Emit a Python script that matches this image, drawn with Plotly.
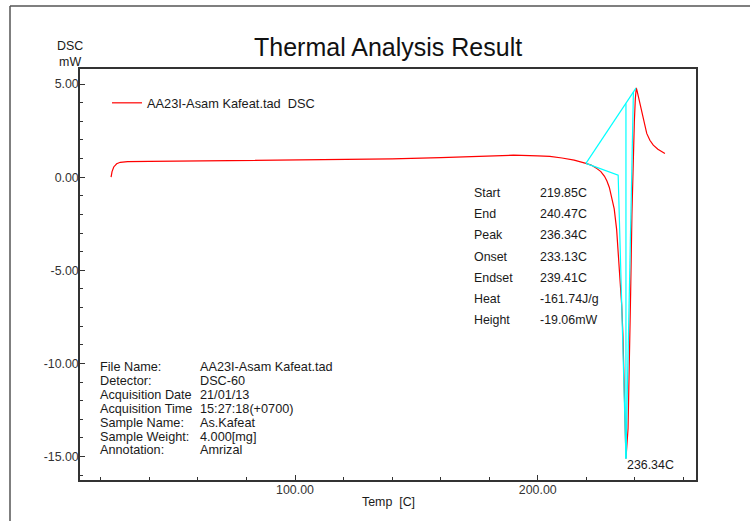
import plotly.graph_objects as go

# DSC trace: temperature [C] and heat flow [mW]
temp = [24.2, 24.6, 25.3, 26.5, 28.0, 31.0, 40.0, 60.0, 80.0, 100.0, 120.0, 140.0,
        160.0, 175.0, 190.0, 200.0, 205.0, 210.0, 215.0, 219.85, 222.0, 224.0,
        226.0, 227.5, 228.5, 229.5, 230.5, 231.5, 232.5, 233.3, 234.0, 234.6,
        235.1, 235.5, 235.9, 236.34, 237.2, 237.8, 238.3, 238.8, 239.3, 239.8,
        240.2, 240.6, 241.0, 241.5, 242.2, 242.9, 243.9, 244.9, 246.2, 247.6,
        249.5, 251.0, 252.4]
dsc = [0.0, 0.30, 0.55, 0.72, 0.80, 0.84, 0.85, 0.87, 0.90, 0.92, 0.95, 0.98,
       1.05, 1.12, 1.18, 1.15, 1.12, 1.03, 0.92, 0.74, 0.65, 0.50,
       0.30, 0.05, -0.20, -0.55, -1.10, -1.70, -2.80, -4.20, -5.60, -6.90,
       -8.50, -10.50, -12.80, -15.10, -13.50, -10.00, -6.00, -2.00, 1.00, 3.00,
       4.20, 4.80, 4.60, 4.30, 3.90, 3.44, 2.85, 2.35, 1.98, 1.72,
       1.50, 1.38, 1.27]

# Peak analysis results
start_t, start_v = 219.85, 0.74
end_t, end_v = 240.47, 4.78
peak_t, peak_v = 236.34, -15.10
onset_t, onset_v = 233.13, 0.11
endset_t = 239.41
height = 19.06

result_labels = ["Start", "End", "Peak", "Onset", "Endset", "Heat", "Height"]
result_values = ["219.85C", "240.47C", "236.34C", "233.13C", "239.41C", "-161.74J/g", "-19.06mW"]

info_labels = ["File Name:", "Detector:", "Acquisition Date", "Acquisition Time",
               "Sample Name:", "Sample Weight:", "Annotation:"]
info_values = ["AA23I-Asam Kafeat.tad", "DSC-60", "21/01/13", "15:27:18(+0700)",
               "As.Kafeat", "4.000[mg]", "Amrizal"]


def baseline(t):
    return start_v + (t - start_t) * (end_v - start_v) / (end_t - start_t)


FONT = "Arial, Liberation Sans, sans-serif"
TXT = "#1a1a1a"
CYAN = "#00ffff"

fig = go.Figure()

fig.add_trace(go.Scatter(x=temp, y=dsc, mode="lines", name="AA23I-Asam Kafeat.tad  DSC",
                         line=dict(color="#ff0000", width=1.2)))

# Baseline and tangent construction lines
cyan_segments = [
    ([start_t, end_t], [start_v, end_v]),
    ([start_t, onset_t, peak_t], [start_v, onset_v, peak_v]),
    ([peak_t, peak_t], [peak_v, peak_v + height]),
    ([peak_t, endset_t], [peak_v, baseline(endset_t)]),
]
for xs, ys in cyan_segments:
    fig.add_trace(go.Scatter(x=xs, y=ys, mode="lines", showlegend=False,
                             line=dict(color=CYAN, width=1.2)))

annotations = []
# Peak results table
for i, (lab, val) in enumerate(zip(result_labels, result_values)):
    yy = 193 + i * 21.2
    annotations.append(dict(x=472, y=yy, xref="paper", yref="paper", text=lab,
                            showarrow=False, xanchor="left", yanchor="middle", size=12.4))
    annotations.append(dict(x=538, y=yy, xref="paper", yref="paper", text=val,
                            showarrow=False, xanchor="left", yanchor="middle", size=12.4))
# File information block
for i, (lab, val) in enumerate(zip(info_labels, info_values)):
    yy = 367 + i * 13.9
    annotations.append(dict(x=98, y=yy, xref="paper", yref="paper", text=lab,
                            showarrow=False, xanchor="left", yanchor="middle", size=12.7))
    annotations.append(dict(x=198, y=yy, xref="paper", yref="paper", text=val,
                            showarrow=False, xanchor="left", yanchor="middle", size=12.7))

# convert pixel positions to paper fractions
L, R, T, B = 80, 696, 69, 480
W, H = 750, 521
for a in annotations:
    a["x"] = (a["x"] - L) / (R - L)
    a["y"] = 1 - (a["y"] - T) / (B - T)
    a["font"] = dict(family=FONT, size=a.pop("size"), color=TXT)

annotations.append(dict(x=peak_t, y=peak_v, xref="x", yref="y", text=f"{peak_t:.2f}C",
                        showarrow=False, xanchor="left", yanchor="top", xshift=-1, yshift=2,
                        font=dict(family=FONT, size=12.4, color=TXT)))
annotations.append(dict(x=(388 - L) / (R - L), y=1 + (T - 47) / (B - T), xref="paper", yref="paper",
                        text="Thermal Analysis Result", showarrow=False,
                        xanchor="center", yanchor="middle",
                        font=dict(family=FONT, size=25, color="#111111")))
annotations.append(dict(x=(70 - L) / (R - L), y=1 + (T - 54) / (B - T), xref="paper", yref="paper",
                        text="DSC<br>mW", showarrow=False, xanchor="center", yanchor="middle",
                        font=dict(family=FONT, size=12.4, color=TXT)))
annotations.append(dict(x=(388 - L) / (R - L), y=-(502 - B) / (B - T), xref="paper", yref="paper",
                        text="Temp  [C]", showarrow=False, xanchor="center", yanchor="middle",
                        font=dict(family=FONT, size=12.4, color=TXT)))

# outer page frame (top and left edges)
shapes = [
    dict(type="line", xref="paper", yref="paper",
         x0=(10 - L) / (R - L), x1=(760 - L) / (R - L),
         y0=1 + (T - 6) / (B - T), y1=1 + (T - 6) / (B - T),
         line=dict(color="#555555", width=1.5)),
    dict(type="line", xref="paper", yref="paper",
         x0=(10 - L) / (R - L), x1=(10 - L) / (R - L),
         y0=1 + (T - 6) / (B - T), y1=-(530 - B) / (B - T),
         line=dict(color="#555555", width=1.5)),
]

axis_common = dict(showgrid=False, zeroline=False, showline=True, mirror=True,
                   linecolor="#333333", linewidth=1.5, ticks="inside", tickcolor="#333333",
                   ticklabelstandoff=-3,
                   tickfont=dict(family=FONT, size=12.4, color="#333333"))

fig.update_layout(
    width=W, height=H,
    margin=dict(l=L, r=W - R, t=T, b=H - B),
    paper_bgcolor="white", plot_bgcolor="white",
    font=dict(family=FONT, size=12, color=TXT),
    xaxis=dict(range=[11.4, 265.2], tickvals=[100, 200], ticktext=["100.00", "200.00"],
               ticklen=5, minor=dict(dtick=20, tick0=0, ticks="inside", ticklen=3, tickcolor="#333333"),
               **axis_common),
    yaxis=dict(range=[-16.26, 5.81], tickvals=[5, 0, -5, -10, -15],
               ticktext=["5.00", "0.00", "-5.00", "-10.00", "-15.00"],
               ticklen=5, minor=dict(dtick=1, tick0=0, ticks="inside", ticklen=3, tickcolor="#333333"),
               **axis_common),
    legend=dict(x=(107 - L) / (R - L), y=1 - (103 - T) / (B - T), xanchor="left", yanchor="middle",
                bgcolor="rgba(0,0,0,0)", font=dict(family=FONT, size=12.8, color=TXT)),
    showlegend=True,
    annotations=annotations,
    shapes=shapes,
)

fig.write_html("out.html")
